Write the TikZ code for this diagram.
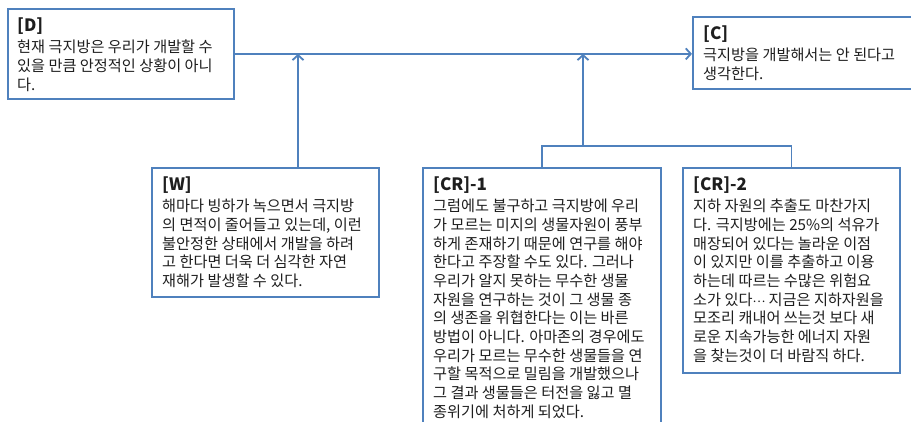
\documentclass[tikz,border=0pt]{standalone}
\usepackage{fontspec}
\setmainfont{Noto Sans CJK KR}
\usetikzlibrary{arrows.meta,calc}
\definecolor{lb}{RGB}{79,129,189}
\definecolor{tx}{RGB}{30,30,30}
\tikzset{
  box/.style={draw=lb, line width=1.8pt, fill=white, rectangle, inner sep=0pt, anchor=north west},
  txt/.style={anchor=north west, inner sep=0pt, align=left, text=tx, font=\fontsize{15.2}{18.7}\selectfont},
  conn/.style={draw=lb, line width=1.8pt},
  arr/.style={conn, -{Straight Barb[length=5pt,width=11pt,line width=1.8pt]}},
}
\newcommand{\hd}[1]{{\bfseries\fontsize{17}{18}\selectfont #1}}
\newcommand{\mdots}{\raisebox{0.3ex}{\fontsize{12}{12}\selectfont …}}
\begin{document}
\begin{tikzpicture}[x=1pt,y=-1pt]
\useasboundingbox (0,0) rectangle (911,422);
\clip (0,0) rectangle (911,422);
\fill[white] (0,0) rectangle (911,422);
% boxes
\node[box, minimum width=226pt, minimum height=90pt] (D) at (7,8) {};
\node[box, minimum width=230pt, minimum height=72pt] (C) at (692,16) {};
\node[box, minimum width=227pt, minimum height=129pt] (W) at (151,167) {};
\node[box, minimum width=238pt, minimum height=270pt] (CR1) at (422,167) {};
\node[box, minimum width=217pt, minimum height=205pt] (CR2) at (682,167) {};
% texts
\node[txt] (Dt) at ($(D.north west)+(10,10)$) {\hd{[D]}\\[2pt]
현재 극지방은 우리가 개발할 수\\
있을 만큼 안정적인 상황이 아니\\
다.};
\node[txt] (Ct) at ($(C.north west)+(11,10)$) {\hd{[C]}\\[2pt]
극지방을 개발해서는 안 된다고\\
생각한다.};
\node[txt] (Wt) at ($(W.north west)+(11,10)$) {\hd{[W]}\\[2pt]
해마다 빙하가 녹으면서 극지방\\
의 면적이 줄어들고 있는데, 이런\\
불안정한 상태에서 개발을 하려\\
고 한다면 더욱 더 심각한 자연\\
재해가 발생할 수 있다.};
\node[txt] (CR1t) at ($(CR1.north west)+(11,10)$) {\hd{[CR]-1}\\[2pt]
그럼에도 불구하고 극지방에 우리\\
가 모르는 미지의 생물자원이 풍부\\
하게 존재하기 때문에 연구를 해야\\
한다고 주장할 수도 있다. 그러나\\
우리가 알지 못하는 무수한 생물\\
자원을 연구하는 것이 그 생물 종\\
의 생존을 위협한다는 이는 바른\\
방법이 아니다. 아마존의 경우에도\\
우리가 모르는 무수한 생물들을 연\\
구할 목적으로 밀림을 개발했으나\\
그 결과 생물들은 터전을 잃고 멸\\
종위기에 처하게 되었다.};
\node[txt] (CR2t) at ($(CR2.north west)+(11,10)$) {\hd{[CR]-2}\\[2pt]
지하 자원의 추출도 마찬가지\\
다. 극지방에는 25\%의 석유가\\
매장되어 있다는 놀라운 이점\\
이 있지만 이를 추출하고 이용\\
하는데 따르는 수많은 위험요\\
소가 있다\mdots{} 지금은 지하자원을\\
모조리 캐내어 쓰는것 보다 새\\
로운 지속가능한 에너지 자원\\
을 찾는것이 더 바람직 하다.};
% connectors
\draw[arr] (D.east) -- (C.west |- D.east);
\coordinate (wx) at (298,0);
\draw[arr] (W.north -| wx) -- (wx |- D.east);
\coordinate (bar) at (0,146);
\draw[conn] (CR1.north) -- (CR1.north |- bar) -- (CR2.north |- bar) -- (CR2.north);
\coordinate (cx) at (583,146);
\draw[arr] (cx) -- (cx |- D.east);
\end{tikzpicture}
\end{document}
